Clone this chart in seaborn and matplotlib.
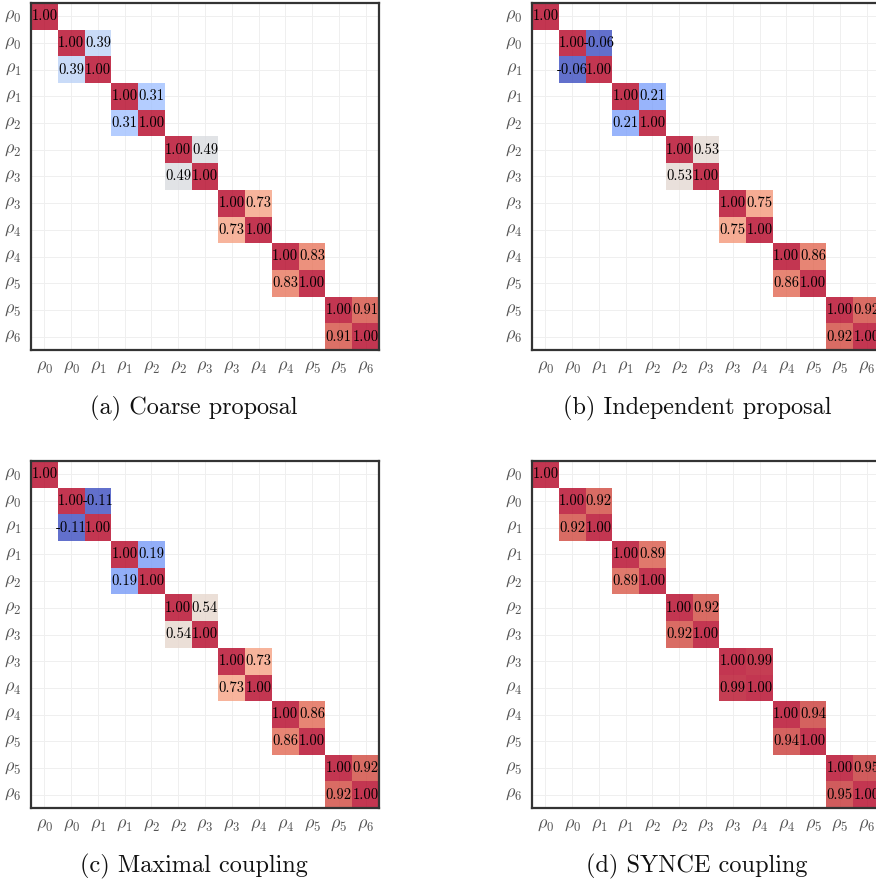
import numpy as np
import pandas as pd
import seaborn as sns
import matplotlib
matplotlib.use("Agg")
import matplotlib.pyplot as plt

sns.set_theme(style="whitegrid")
plt.rcParams["font.family"] = ["cmr10", "DejaVu Serif"]
plt.rcParams["mathtext.fontset"] = "cm"
plt.rcParams["axes.formatter.use_mathtext"] = True

labels = [r"$\rho_0$", r"$\rho_0$", r"$\rho_1$", r"$\rho_1$", r"$\rho_2$", r"$\rho_2$",
          r"$\rho_3$", r"$\rho_3$", r"$\rho_4$", r"$\rho_4$", r"$\rho_5$", r"$\rho_5$", r"$\rho_6$"]

coarse = [0.39, 0.31, 0.49, 0.73, 0.83, 0.91]
independent = [-0.06, 0.21, 0.53, 0.75, 0.86, 0.92]
maximal = [-0.11, 0.19, 0.54, 0.73, 0.86, 0.92]
synce = [0.92, 0.89, 0.92, 0.99, 0.94, 0.95]

titles = ["(a) Coarse proposal", "(b) Independent proposal",
          "(c) Maximal coupling", "(d) SYNCE coupling"]
series = [coarse, independent, maximal, synce]


def build(vals):
    n = len(labels)
    m = np.full((n, n), np.nan)
    m[0, 0] = 1.0
    for k, v in enumerate(vals):
        i = 1 + 2 * k
        m[i, i] = 1.0
        m[i + 1, i + 1] = 1.0
        m[i, i + 1] = v
        m[i + 1, i] = v
    return pd.DataFrame(m)


W, H = 876, 884
fig = plt.figure(figsize=(W / 100, H / 100), dpi=100)

lefts = [31, 532, 31, 532]
tops = [3, 3, 461, 461]
cap_x = [194, 697, 194, 697]
cap_y = [408, 408, 866, 866]
aw, ah = 348, 347

for idx in range(4):
    ax = fig.add_axes([lefts[idx] / W, 1 - (tops[idx] + ah) / H, aw / W, ah / H])
    df = build(series[idx])
    sns.heatmap(df, ax=ax, cmap="coolwarm", vmin=0, vmax=1, alpha=0.8,
                annot=True, fmt=".2f", cbar=False, square=False,
                annot_kws={"color": "black", "fontsize": 10.5},
                xticklabels=labels, yticklabels=labels)
    ax.set_axisbelow(True)
    ax.grid(True, color="#efefef", linewidth=0.7)
    for s in ax.spines.values():
        s.set_visible(True)
        s.set_color("#333333")
        s.set_linewidth(1.6)
    ax.tick_params(axis="both", length=0, labelsize=13, colors="#555555", pad=7)
    plt.setp(ax.get_xticklabels(), rotation=0)
    plt.setp(ax.get_yticklabels(), rotation=0)
    for t in ax.texts:
        t.set_color("black")
    fig.text(cap_x[idx] / W, 1 - cap_y[idx] / H, titles[idx], ha="center", va="center",
             fontsize=17.5, color="#111111")

fig.savefig("out.png", dpi=100)
